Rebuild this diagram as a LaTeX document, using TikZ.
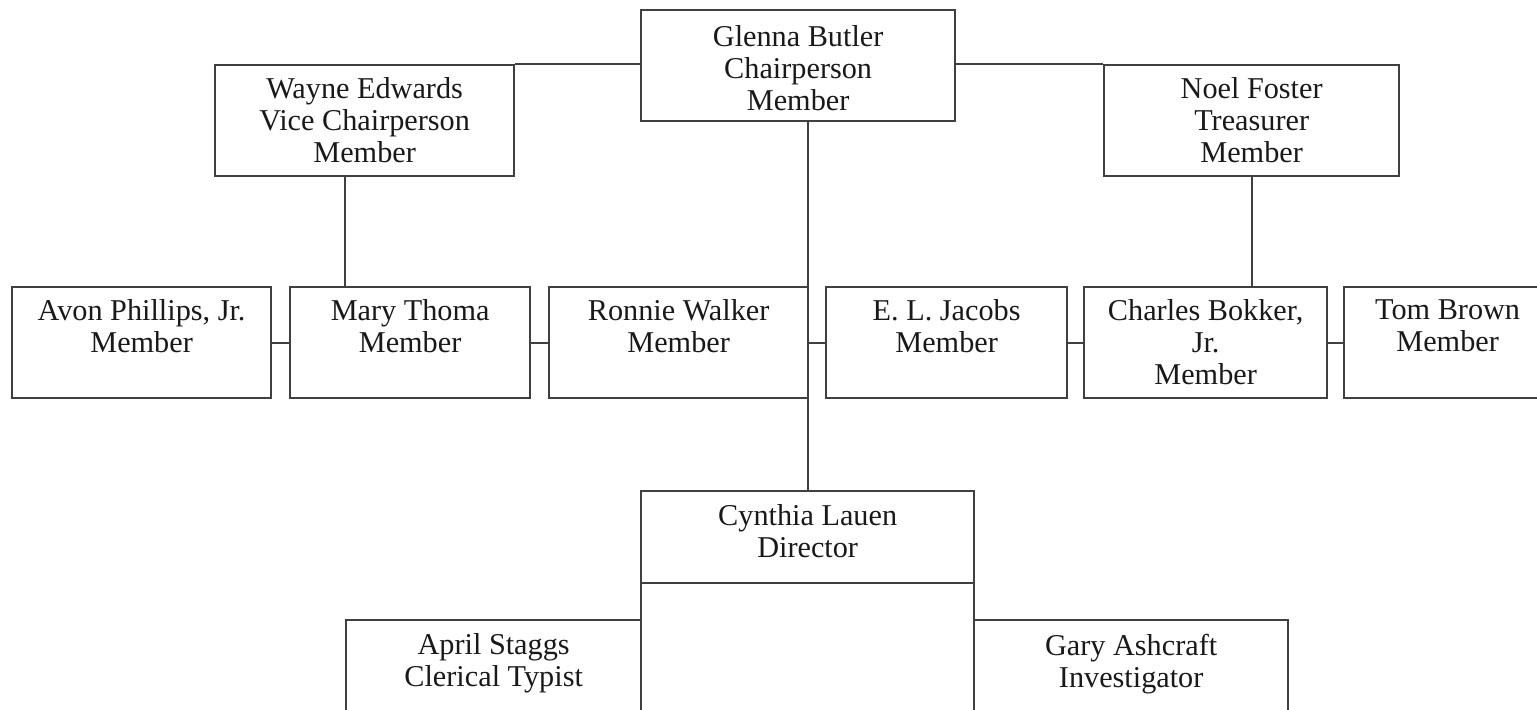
\documentclass[tikz,border=0pt]{standalone}
\usepackage{fontspec}
\setmainfont{Liberation Serif}
\usepackage{tikz}
\usetikzlibrary{calc}
\newcommand{\orgfont}{\fontsize{8.6pt}{9.1pt}\selectfont}
\tikzstyle{box} = [draw=black!75, line width=0.6pt, rectangle, inner sep=0pt, anchor=north west]
\tikzstyle{boxtext} = [anchor=north, align=center, inner sep=0pt, font=\orgfont, text=black!90]
\tikzstyle{edge} = [black!75, line width=0.6pt]

\begin{document}
\begin{tikzpicture}[x=0.01cm, y=-0.01cm]

\useasboundingbox (0,0) rectangle (1537,710);

\node[box, minimum width=3.14cm, minimum height=1.11cm] (glenna) at (640,9) {};
\node[box, minimum width=2.99cm, minimum height=1.11cm] (wayne) at (214,64) {};
\node[box, minimum width=2.95cm, minimum height=1.11cm] (noel) at (1103,64) {};

\node[box, minimum width=2.59cm, minimum height=1.11cm] (avon) at (11,286) {};
\node[box, minimum width=2.40cm, minimum height=1.11cm] (mary) at (289,286) {};
\node[box, minimum width=2.59cm, minimum height=1.11cm] (ronnie) at (548,286) {};
\node[box, minimum width=2.41cm, minimum height=1.11cm] (jacobs) at (825,286) {};
\node[box, minimum width=2.43cm, minimum height=1.11cm] (charles) at (1083,286) {};
\node[box, minimum width=2.07cm, minimum height=1.11cm] (tom) at (1343,286) {};

\node[box, minimum width=3.33cm, minimum height=0.92cm] (cynthia) at (640,490) {};
\node[box, minimum width=3.33cm, minimum height=1.60cm] (staff) at (640,582) {};
\node[box, minimum width=2.95cm, minimum height=1.20cm] (april) at (345,619) {};
\node[box, minimum width=3.14cm, minimum height=1.20cm] (gary) at (973,619) {};

\node[boxtext] (glenna-t) at ([yshift=-0.16cm]glenna.north) {Glenna Butler\\Chairperson\\Member};
\node[boxtext] (wayne-t) at ([yshift=-0.13cm]wayne.north) {Wayne Edwards\\Vice Chairperson\\Member};
\node[boxtext] (noel-t) at ([yshift=-0.13cm]noel.north) {Noel Foster\\Treasurer\\Member};
\node[boxtext] (avon-t) at ([yshift=-0.13cm]avon.north) {Avon Phillips, Jr.\\Member};
\node[boxtext] (mary-t) at ([yshift=-0.13cm]mary.north) {Mary Thoma\\Member};
\node[boxtext] (ronnie-t) at ([yshift=-0.13cm]ronnie.north) {Ronnie Walker\\Member};
\node[boxtext] (jacobs-t) at ([yshift=-0.13cm]jacobs.north) {E. L. Jacobs\\Member};
\node[boxtext] (charles-t) at ([yshift=-0.13cm]charles.north) {Charles Bokker,\\Jr.\\Member};
\node[boxtext] (tom-t) at ([yshift=-0.13cm]tom.north) {Tom Brown\\Member};
\node[boxtext] (cynthia-t) at ([yshift=-0.14cm]cynthia.north) {Cynthia Lauen\\Director};
\node[boxtext] (april-t) at ([yshift=-0.14cm]april.north) {April Staggs\\Clerical Typist};
\node[boxtext] (gary-t) at ([yshift=-0.14cm]gary.north) {Gary Ashcraft\\Investigator};

\coordinate (wv) at (345,0);

\draw[edge] (wayne.north east) -- (wayne.north east -| glenna.west);
\draw[edge] (noel.north west) -- (noel.north west -| glenna.east);
\draw[edge] (cynthia.north) -- (cynthia.north |- glenna.south);
\draw[edge] (wayne.south -| wv) -- (mary.north -| wv);
\draw[edge] (noel.south) -- (noel.south |- charles.north);
\draw[edge] (avon) -- (mary);
\draw[edge] (mary) -- (ronnie);
\draw[edge] (ronnie) -- (jacobs);
\draw[edge] (jacobs) -- (charles);
\draw[edge] (charles) -- (tom);

\end{tikzpicture}
\end{document}
